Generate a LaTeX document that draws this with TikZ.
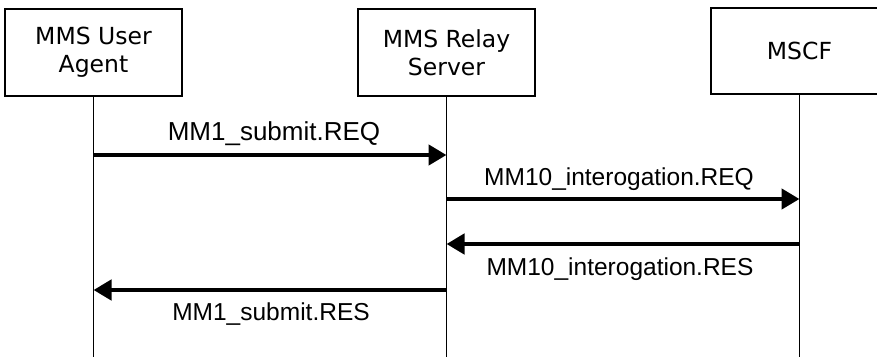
\documentclass[tikz,border=0pt]{standalone}
\usepackage{fontspec}
\setmainfont{Liberation Sans}
\newfontfamily\boxfont{DejaVu Sans}
\usetikzlibrary{arrows.meta}

\tikzset{
	actor/.style={draw, line width=1.3pt, fill=white, minimum width=177pt, minimum height=87pt, inner sep=0pt, align=center, font=\boxfont\fontsize{23.5}{28}\selectfont},
	lifeline/.style={line width=1pt},
	msg/.style={line width=4.5pt, -{Triangle[length=18pt, width=20pt]}},
	msglabel/.style={anchor=base, inner sep=0pt, font=\fontsize{24.5}{28}\selectfont}
}

\begin{document}
\begin{tikzpicture}[x=1pt, y=-1pt]
		\useasboundingbox ( 0, 0 ) rectangle ( 877, 356 );
		\clip ( 0, 0 ) rectangle ( 877, 356 );

		% участники
		\node [actor] (ua) at ( 93.5, 52.5 ) {MMS User\\Agent};
		\node [actor] (rs) at ( 446.5, 52.5 ) {MMS Relay\\Server};
		\node [actor, minimum height=86pt] (mscf) at ( 799.5, 51 ) {MSCF};

		% линии жизни
		\coordinate (uaend) at ( ua.south |- 0, 360 );
		\coordinate (rsend) at ( rs.south |- 0, 360 );
		\coordinate (mscfend) at ( mscf.south |- 0, 360 );
		\draw [lifeline] (ua.south) -- (uaend);
		\draw [lifeline] (rs.south) -- (rsend);
		\draw [lifeline] (mscf.south) -- (mscfend);

		% MM1 запрос
		\draw [msg] ( ua.south |- 0, 155 ) -- ( rs.south |- 0, 155 );
		\node [msglabel, font=\fontsize{26}{28}\selectfont] (req1) at ( 274, 140 ) {MM1\_submit.REQ};

		% MM10 запрос
		\draw [msg] ( rs.south |- 0, 199 ) -- ( mscf.south |- 0, 199 );
		\node [msglabel] (req10) at ( 619, 185 ) {MM10\_interogation.REQ};

		% MM10 ответ
		\draw [msg] ( mscf.south |- 0, 244 ) -- ( rs.south |- 0, 244 );
		\node [msglabel] (res10) at ( 620, 275 ) {MM10\_interogation.RES};

		% MM1 ответ
		\draw [msg] ( rs.south |- 0, 290 ) -- ( ua.south |- 0, 290 );
		\node [msglabel] (res1) at ( 271, 320 ) {MM1\_submit.RES};
	\end{tikzpicture}
\end{document}
